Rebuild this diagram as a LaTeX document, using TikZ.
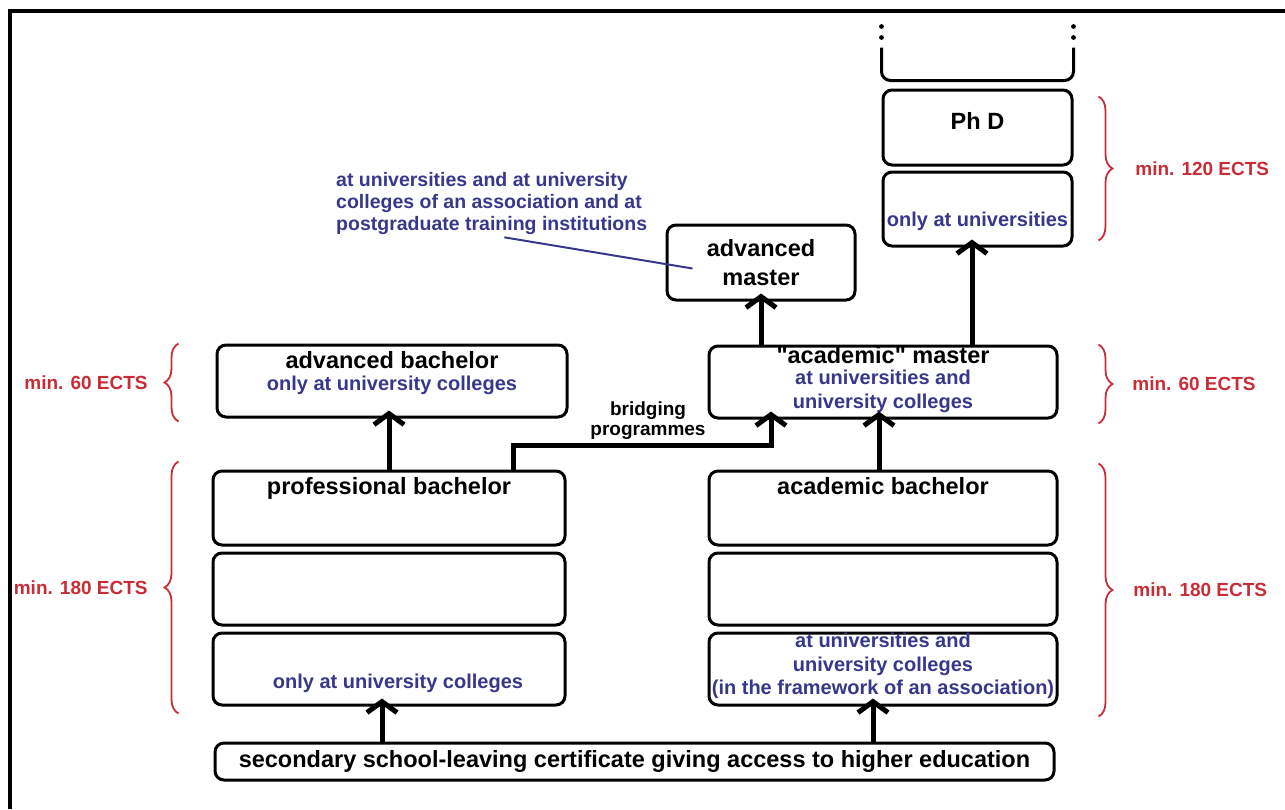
\documentclass[tikz,border=0pt]{standalone}
\usepackage{fontspec}
\setmainfont{Liberation Sans}
\newfontfamily\plainquotes{Liberation Sans}
\usetikzlibrary{arrows.meta,decorations.pathreplacing}
\definecolor{ectsred}{RGB}{200,45,55}
\definecolor{uniblue}{RGB}{55,55,140}

\begin{document}
\begin{tikzpicture}[x=1pt, y=-1pt,
  box/.style = {draw, line width=3pt, rounded corners=9pt,
    fill=white, inner sep=0pt, align=center},
  titletext/.style = {font=\bfseries\fontsize{23.5}{29}\selectfont,
    inner sep=0pt, align=center},
  unitext/.style = {font=\bfseries\fontsize{20}{23.5}\selectfont,
    text=uniblue, inner sep=0pt, align=center},
  ects/.style = {font=\bfseries\fontsize{19}{22}\selectfont,
    text=ectsred, inner sep=0pt},
  ectsbrace/.style = {draw=ectsred, line width=1.8pt, decorate,
    decoration={brace, amplitude=14pt}},
  arr/.style = {line width=5pt, -{Straight Barb[length=11pt,width=30pt]},
    shorten >=-8pt}
]

  \useasboundingbox (0,0) rectangle (1285,809);
  \draw[line width=4pt] (10,809) -- (10,11) -- (1285,11);

  % boxes
  \node[box, minimum width=189pt, minimum height=75pt] (phd) at (977.5,127.5) {};
  \node[box, minimum width=189pt, minimum height=74pt] (phduni) at (977.5,209) {};
  \node[box, titletext, minimum width=188pt, minimum height=75pt] (advmaster) at (761,262.5) {advanced\\master};
  \node[box, minimum width=350pt, minimum height=72pt] (advbach) at (392,381) {};
  \node[box, minimum width=348pt, minimum height=72pt] (acmaster) at (883,382) {};
  \node[box, minimum width=352pt, minimum height=74pt] (profbach) at (389,508) {};
  \node[box, minimum width=352pt, minimum height=72pt] (profmid) at (389,589) {};
  \node[box, minimum width=352pt, minimum height=72pt] (profuni) at (389,669) {};
  \node[box, minimum width=348pt, minimum height=74pt] (acbach) at (883,508) {};
  \node[box, minimum width=348pt, minimum height=72pt] (acmid) at (883,589) {};
  \node[box, minimum width=348pt, minimum height=72pt] (acuni) at (883,669) {};
  \node[box, titletext, minimum width=839pt, minimum height=37pt] (school) at (634.5,761.5)
    {secondary school-leaving certificate giving access to higher education};

  \draw[line width=3pt, rounded corners=9pt] ([yshift=41pt]phd.north west) -- ([yshift=8pt]phd.north west)
    -- ([yshift=8pt]phd.north east) -- ([yshift=41pt]phd.north east);
  \fill ([yshift=51pt]phd.north west) circle (2.4pt) ([yshift=62pt]phd.north west) circle (2.4pt)
    ([yshift=51pt]phd.north east) circle (2.4pt) ([yshift=62pt]phd.north east) circle (2.4pt);

  % texts
  \node[titletext] (phdtxt) at ([yshift=-32pt]phd.north) {Ph D};
  \node[unitext] (phdunitxt) at ([yshift=26pt]phduni.south) {only at universities};
  \node[titletext] (advbachtxt) at ([yshift=-17pt]advbach.north) {advanced bachelor};
  \node[unitext] (advbachunitxt) at ([yshift=-42pt]advbach.north) {only at university colleges};
  \node[titletext] (acmastertxt) at ([yshift=-11pt]acmaster.north) {\plainquotes"academic" master};
  \node[unitext] (acmasterunitxt) at ([yshift=-47pt]acmaster.north) {at universities and\\university colleges};
  \node[titletext] (profbachtxt) at ([yshift=-19pt]profbach.north) {professional bachelor};
  \node[unitext] (profunitxt) at ([xshift=9pt,yshift=23pt]profuni.south) {only at university colleges};
  \node[titletext] (acbachtxt) at ([yshift=-17pt]acbach.north) {academic bachelor};
  \node[unitext] (acunitxt) at ([yshift=3pt]acuni.center)
    {at universities and\\university colleges\\(in the framework of an association)};
  \node[font=\bfseries\fontsize{19}{20}\selectfont, align=center, inner sep=0pt] (bridgetxt) at (648,421)
    {bridging\\programmes};
  \node[font=\bfseries\fontsize{19.5}{22}\selectfont, text=uniblue, align=left, inner sep=0pt,
    anchor=west] (note) at (336,203)
    {at universities and at university\\colleges of an association and at\\postgraduate training institutions};
  \draw[uniblue, line width=2pt] ([xshift=-143pt,yshift=-3pt]note.south east) -- ([xshift=27pt,yshift=-6pt]advmaster.west);

  % arrows
  \draw[arr] ([xshift=-7pt]school.north -| profuni.south) -- ([xshift=-7pt]profuni.south);
  \draw[arr] ([xshift=-10pt]school.north -| acuni.south) -- ([xshift=-10pt]acuni.south);
  \draw[arr] (profbach.north) -- (profbach.north |- advbach.south);
  \draw[arr] ([xshift=-4pt]acbach.north) -- ([xshift=-4pt]acmaster.south);
  \draw[arr] (advmaster.south |- acmaster.north) -- (advmaster.south);
  \draw[arr] ([xshift=-5.5pt]phduni.south |- acmaster.north) -- ([xshift=-5.5pt]phduni.south);
  \draw[arr] ([xshift=124pt]profbach.north) |- ([xshift=-112pt,yshift=-26pt]acmaster.south)
    -- ([xshift=-112pt]acmaster.south);

  % ECTS
  \draw[ectsbrace] ([xshift=25pt,yshift=-8pt]phd.north east) -- ([xshift=25pt,yshift=7pt]phduni.south east)
    node[ects, midway, anchor=west, xshift=36pt] (ects120) {min. 120 ECTS};
  \draw[ectsbrace] ([xshift=40pt]acmaster.north east) -- ([xshift=40pt,yshift=-4pt]acmaster.south east)
    node[ects, midway, anchor=west, xshift=33pt] (ects60r) {min. 60 ECTS};
  \draw[ectsbrace] ([xshift=40pt,yshift=6pt]acbach.north east) -- ([xshift=40pt,yshift=-10pt]acuni.south east)
    node[ects, midway, anchor=west, xshift=34pt] (ects180r) {min. 180 ECTS};
  \draw[ectsbrace] ([xshift=-37pt,yshift=-3pt]advbach.south west) -- ([xshift=-37pt]advbach.north west)
    node[ects, midway, anchor=east, xshift=-30pt] (ects60l) {min. 60 ECTS};
  \draw[ectsbrace] ([xshift=-33pt,yshift=-7pt]profuni.south west) -- ([xshift=-33pt,yshift=8pt]profbach.north west)
    node[ects, midway, anchor=east, xshift=-30pt] (ects180l) {min. 180 ECTS};

\end{tikzpicture}
\end{document}
